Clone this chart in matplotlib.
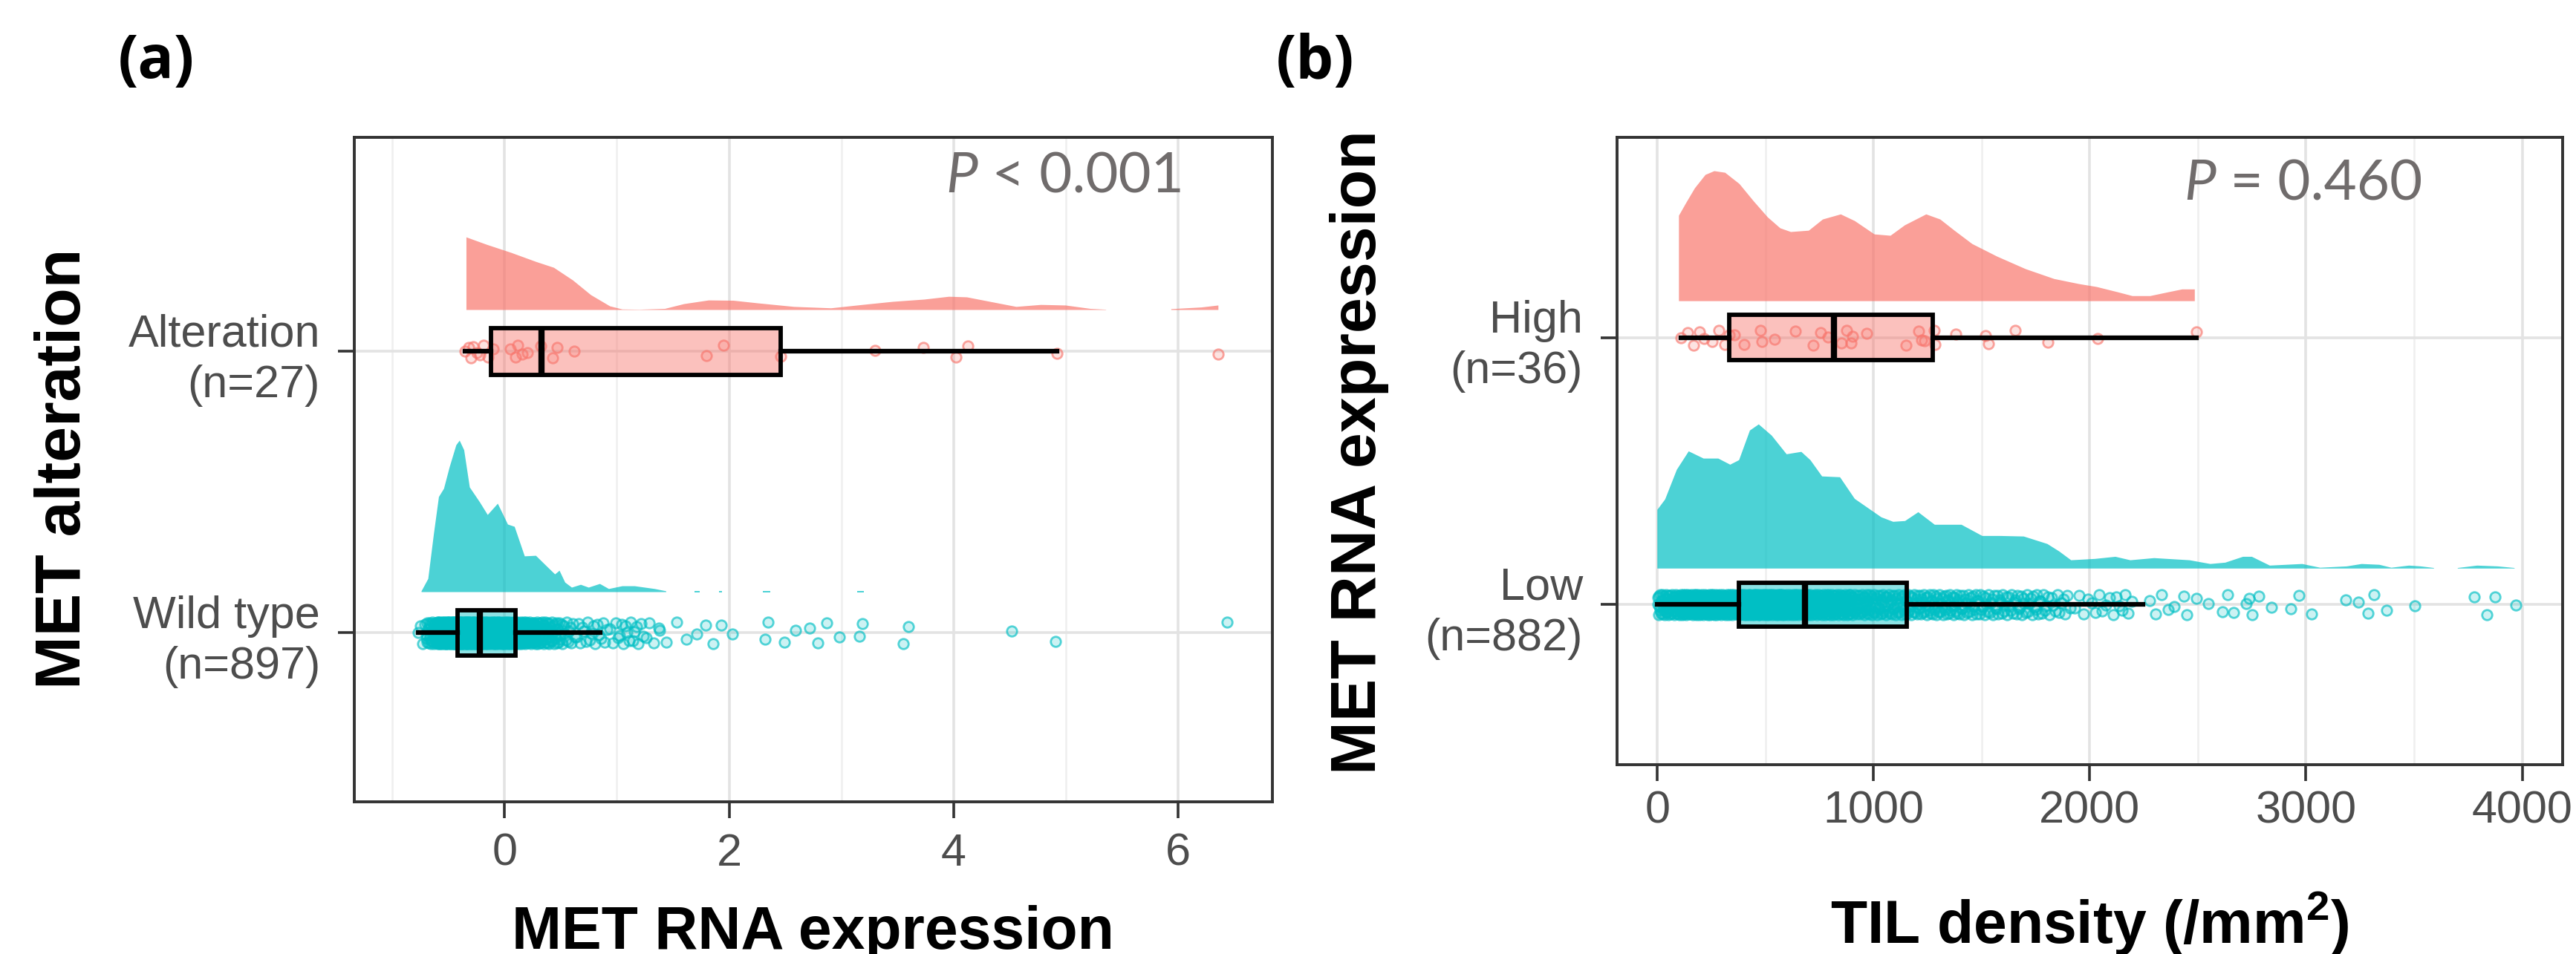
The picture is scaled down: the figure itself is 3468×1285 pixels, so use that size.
import numpy as np
import matplotlib
matplotlib.use("Agg")
import matplotlib.pyplot as plt
from matplotlib.ticker import MultipleLocator

plt.rcParams['font.family'] = ['Liberation Sans', 'DejaVu Sans']
plt.rcParams['mathtext.fontset'] = 'custom'
plt.rcParams['mathtext.rm'] = 'Liberation Sans:bold'
plt.rcParams['mathtext.default'] = 'regular'

SALMON = '#F8766D'
CYAN = '#00BFC4'
GREY_TXT = '#4D4D4D'

# ---------------- panel (a): MET alteration vs MET RNA expression
a_cats = ['Wild type\n(n=897)', 'Alteration\n(n=27)']

# half-violin outlines (x, height in category units)
alt_dens_x = [-0.34, -0.16, 0.06, 0.28, 0.44, 0.61, 0.77, 0.94, 1.05, 1.20, 1.43, 1.60, 1.82,
              2.04, 2.25, 2.58, 2.91, 3.19, 3.46, 3.74, 3.96, 4.12, 4.34, 4.56, 4.78, 5.00,
              5.22, 5.36, np.nan, 5.94, 6.21, 6.36]
alt_dens_h = [0.258, 0.232, 0.203, 0.171, 0.150, 0.105, 0.053, 0.013, 0.002, 0.001, 0.004,
              0.021, 0.034, 0.033, 0.024, 0.011, 0.006, 0.018, 0.029, 0.037, 0.047, 0.045,
              0.028, 0.011, 0.018, 0.016, 0.004, 0.001, np.nan, 0.003, 0.009, 0.016]

wt_dens_x = [-0.74, -0.68, -0.63, -0.585, -0.54, -0.49, -0.43, -0.40, -0.36, -0.31, -0.22,
             -0.15, -0.06, 0.03, 0.09, 0.18, 0.28, 0.38, 0.45, 0.49, 0.54, 0.60, 0.68, 0.75,
             0.85, 0.93, 1.05, 1.16, 1.25, 1.34, 1.44, np.nan, 1.69, 1.74, np.nan, 1.91, 1.94,
             np.nan, 2.30, 2.37, np.nan, 3.14, 3.20]
wt_dens_h = [0.003, 0.047, 0.206, 0.338, 0.367, 0.443, 0.522, 0.538, 0.504, 0.372, 0.319,
             0.274, 0.314, 0.240, 0.232, 0.127, 0.129, 0.090, 0.063, 0.076, 0.034, 0.016,
             0.026, 0.016, 0.029, 0.011, 0.021, 0.021, 0.016, 0.011, 0.003, np.nan, 0.004,
             0.004, np.nan, 0.004, 0.004, np.nan, 0.004, 0.004, np.nan, 0.004, 0.004]

alt_points = [-0.35, -0.32, -0.30, -0.28, -0.25, -0.22, -0.19, -0.15, -0.10, 0.05, 0.10,
              0.12, 0.16, 0.20, 0.32, 0.43, 0.47, 0.62, 1.80, 1.95, 2.46, 3.30, 3.73, 4.02,
              4.13, 4.92, 6.36]

# wild type: histogram counts for the dense part + individual high values
wt_edges = [-0.78, -0.7, -0.6, -0.5, -0.4, -0.3, -0.2, -0.1, 0.0, 0.1, 0.2, 0.3, 0.4, 0.5,
            0.6, 0.7, 0.8, 0.9, 1.0, 1.1, 1.2, 1.3, 1.4]
wt_counts = [4, 28, 96, 135, 128, 93, 75, 78, 64, 43, 34, 26, 19, 10, 6, 6, 6, 4, 6, 6, 4, 2]
wt_high = [1.38, 1.44, 1.53, 1.62, 1.71, 1.79, 1.86, 1.93, 2.03, 2.32, 2.35, 2.49, 2.59, 2.72,
           2.79, 2.87, 2.98, 3.16, 3.19, 3.55, 3.60, 4.52, 4.91, 6.44]

alt_box = dict(whislo=-0.35, q1=-0.12, med=0.33, q3=2.46, whishi=4.92)
wt_box = dict(whislo=-0.77, q1=-0.42, med=-0.22, q3=0.10, whishi=0.85)

# ---------------- panel (b): MET RNA expression vs TIL density
b_cats = ['Low\n(n=882)', 'High\n(n=36)']

high_dens_x = [98, 131, 172, 221, 262, 312, 378, 443, 509, 567, 616, 699, 764, 847, 912, 1003,
               1077, 1143, 1242, 1307, 1373, 1455, 1570, 1702, 1834, 1949, 2031, 2130, 2196,
               2278, 2360, 2426, 2484]
high_dens_h = [0.320, 0.367, 0.423, 0.473, 0.487, 0.481, 0.439, 0.375, 0.314, 0.273, 0.259,
               0.264, 0.306, 0.325, 0.300, 0.250, 0.245, 0.284, 0.325, 0.306, 0.264, 0.214,
               0.167, 0.120, 0.083, 0.064, 0.053, 0.033, 0.019, 0.019, 0.033, 0.044, 0.044]

low_dens_x = [0, 36, 90, 145, 214, 282, 337, 378, 428, 469, 529, 598, 666, 708, 762, 845, 913,
              1036, 1091, 1146, 1207, 1283, 1407, 1503, 1585, 1695, 1804, 1859, 1914, 2024,
              2119, 2188, 2298, 2462, 2558, 2627, 2709, 2750, 2833, 2983, 3066, 3189, 3258,
              3340, 3395, 3477, 3532, 3592, np.nan, 3702, 3792, 3888, 3965]
low_dens_h = [0.220, 0.259, 0.370, 0.439, 0.412, 0.412, 0.389, 0.406, 0.517, 0.540, 0.498,
              0.428, 0.437, 0.406, 0.345, 0.342, 0.261, 0.192, 0.175, 0.178, 0.211, 0.164,
              0.164, 0.122, 0.122, 0.120, 0.092, 0.064, 0.031, 0.036, 0.044, 0.031, 0.039,
              0.031, 0.017, 0.022, 0.044, 0.044, 0.011, 0.017, 0.003, 0.008, 0.017, 0.014,
              0.003, 0.011, 0.008, 0.002, np.nan, 0.002, 0.011, 0.008, 0.002]

high_points = [110, 139, 168, 196, 217, 254, 283, 312, 332, 355, 400, 477, 484, 543, 638, 720,
               754, 788, 852, 875, 895, 904, 967, 1149, 1207, 1221, 1236, 1279, 1285, 1380,
               1516, 1533, 1655, 1805, 2036, 2492]

low_edges = [0, 100, 200, 300, 400, 500, 600, 700, 800, 900, 1000, 1100, 1200, 1300, 1400,
             1500, 1600, 1700, 1800, 1900, 2000, 2100, 2200]
low_counts = [47, 70, 67, 64, 86, 77, 70, 56, 54, 38, 30, 29, 29, 27, 23, 20, 19, 17, 11, 5, 6, 7]
low_high = [2276, 2304, 2333, 2362, 2391, 2434, 2449, 2492, 2550, 2613, 2636, 2665, 2723, 2738,
            2752, 2781, 2839, 2931, 2969, 3026, 3185, 3243, 3286, 3315, 3373, 3503, 3777, 3835,
            3873, 3971]

high_box = dict(whislo=110, q1=332, med=816, q3=1273, whishi=2492)
low_box = dict(whislo=0, q1=378, med=681, q3=1155, whishi=2246)


def spread_bins(edges, counts):
    xs = []
    for lo, hi, c in zip(edges[:-1], edges[1:], counts):
        xs.extend(lo + (np.arange(c) + 0.5) / c * (hi - lo))
    return np.array(xs)


def jitter(n, w):
    return w * np.sin(np.arange(n) * 2.39996)


def raincloud(ax, ypos, dx, dh, pts, color, box, offset, box_w, jit):
    dx = np.asarray(dx, float)
    dh = np.asarray(dh, float)
    base = ypos + offset
    ax.fill_between(dx, base, base + dh, color=color, alpha=0.7, lw=0, zorder=2)
    pts = np.asarray(pts, float)
    rgb = matplotlib.colors.to_rgb(color)
    ax.scatter(pts, ypos + jitter(len(pts), jit), s=95,
               facecolors=[(*rgb, 0.2)], edgecolors=[(*rgb, 0.65)],
               linewidths=2.0, zorder=3)
    st = dict(box, fliers=[])
    ax.bxp([st], positions=[ypos], widths=box_w, orientation='horizontal',
           patch_artist=True, showfliers=False, showcaps=False,
           boxprops=dict(facecolor=(*rgb, 0.45), edgecolor='black', linewidth=4.2),
           medianprops=dict(color='black', linewidth=6),
           whiskerprops=dict(color='black', linewidth=4.5),
           manage_ticks=False, zorder=4)


def style_axes(ax, cats, xmajor, xminor, xpad):
    ax.set_yticks([1, 2])
    ax.set_yticklabels(cats, color=GREY_TXT, fontsize=44, linespacing=1.25,
                       multialignment='right')
    ax.xaxis.set_major_locator(MultipleLocator(xmajor))
    ax.xaxis.set_minor_locator(MultipleLocator(xminor))
    ax.grid(True, which='major', color='#E3E3E3', lw=2.6, zorder=0)
    ax.grid(True, which='minor', axis='x', color='#EFEFEF', lw=1.8, zorder=0)
    ax.set_axisbelow(True)
    for sp in ax.spines.values():
        sp.set_color('#333333')
        sp.set_linewidth(2.8)
    ax.tick_params(which='major', length=16, width=2.6, color='#333333',
                   labelsize=44, labelcolor=GREY_TXT)
    ax.tick_params(axis='x', pad=xpad)
    ax.tick_params(axis='y', pad=17)
    ax.tick_params(which='minor', length=0)


def p_label(ax, x, y, rest):
    t = ax.text(x, y, 'P', style='italic', fontsize=55, color='#706C6C',
                family=['Lato', 'DejaVu Sans'], va='bottom')
    ax.annotate(rest, xy=(1, 0), xycoords=t, va='bottom', ha='left', fontsize=55,
                color='#706C6C', family=['Lato', 'DejaVu Sans'])


fig = plt.figure(figsize=(34.68, 12.85), dpi=100)

ax1 = fig.add_axes([0.1375, 0.1595, 0.3564, 0.6965])
raincloud(ax1, 2, alt_dens_x, alt_dens_h, alt_points, SALMON, alt_box, 0.147, 0.166, 0.022)
wt_points = np.concatenate([spread_bins(wt_edges, wt_counts), wt_high])
raincloud(ax1, 1, wt_dens_x, wt_dens_h, wt_points, CYAN, wt_box, 0.145, 0.163, 0.038)
ax1.set_xlim(-1.34, 6.84)
ax1.set_ylim(0.40, 2.76)
style_axes(ax1, a_cats, 2, 1, 14)
p_label(ax1, 3.93, 2.53, ' < 0.001')

ax2 = fig.add_axes([0.6277, 0.1984, 0.3671, 0.6576])
raincloud(ax2, 2, high_dens_x, high_dens_h, high_points, SALMON, high_box, 0.138, 0.17, 0.028)
low_points = np.concatenate([spread_bins(low_edges, low_counts), low_high])
raincloud(ax2, 1, low_dens_x, low_dens_h, low_points, CYAN, low_box, 0.135, 0.165, 0.038)
ax2.set_xlim(-187, 4187)
ax2.set_ylim(0.40, 2.75)
style_axes(ax2, b_cats, 1000, 500, 9)
p_label(ax2, 2435, 2.48, ' = 0.460')

# axis titles
fig.text(0.0248, 0.509, 'MET alteration', rotation=90, ha='center', va='center',
         fontsize=62, fontweight='bold', color='black')
fig.text(0.5277, 0.526, 'MET RNA expression', rotation=90, ha='center', va='center',
         fontsize=62, fontweight='bold', color='black')
fig.text(0.3155, 0.0055, 'MET RNA expression', ha='center', va='baseline',
         fontsize=58, fontweight='bold')
fig.text(0.8111, 0.0117, 'TIL density (/mm$^{2}$)', ha='center', va='baseline',
         fontsize=58, fontweight='bold')

# panel letters
fig.text(0.0606, 0.9346, '(a)', ha='center', va='center', fontsize=58, fontweight='bold',
         family=['Open Sans', 'DejaVu Sans'])
fig.text(0.5104, 0.9346, '(b)', ha='center', va='center', fontsize=58, fontweight='bold',
         family=['Open Sans', 'DejaVu Sans'])

fig.savefig('out.png', dpi=100, facecolor='white')
